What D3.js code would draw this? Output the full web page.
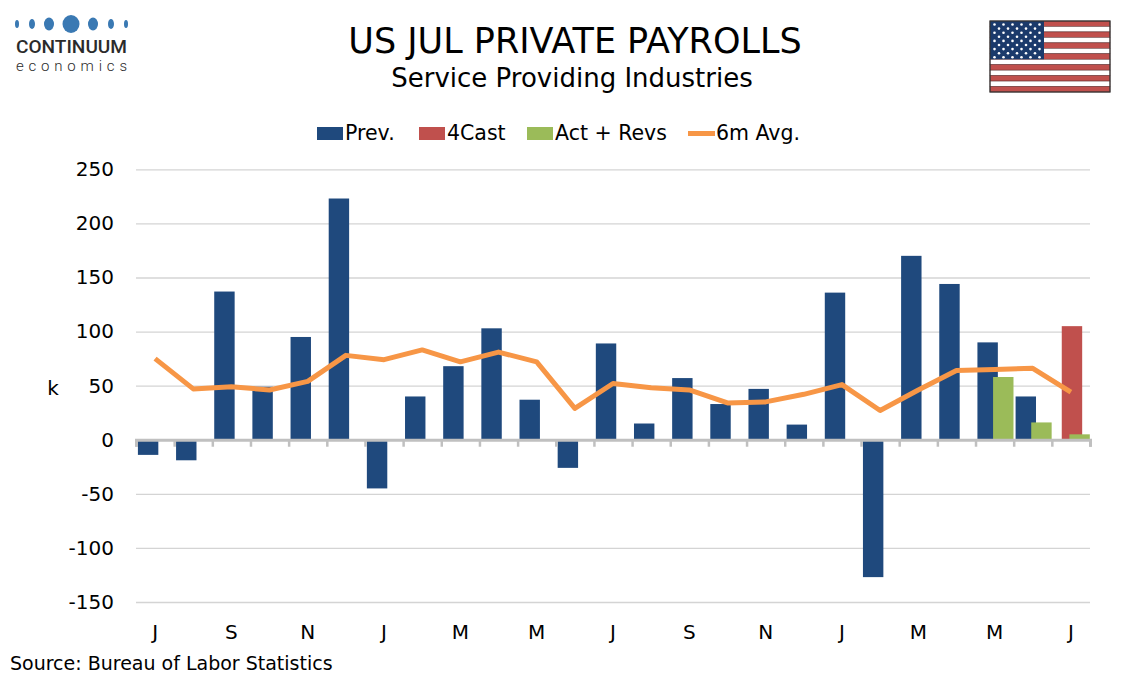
<!DOCTYPE html>
<html>
<head>
<meta charset="utf-8">
<script src="https://cdn.jsdelivr.net/npm/d3@7"></script>
<style>
  body { margin: 0; background: #fff; }
  svg { font-family: "DejaVu Sans", Verdana, sans-serif; }
</style>
</head>
<body>
<div id="chart"></div>
<script>
// months Jul 2023 .. Jul 2025
const months = ["Jul23","Aug23","Sep23","Oct23","Nov23","Dec23","Jan24","Feb24","Mar24","Apr24","May24","Jun24",
                "Jul24","Aug24","Sep24","Oct24","Nov24","Dec24","Jan25","Feb25","Mar25","Apr25","May25","Jun25","Jul25"];
const tickLabels = ["J","","S","","N","","J","","M","","M","","J","","S","","N","","J","","M","","M","","J"];

const prevValues = [-14, -19, 137, 49, 95, 223, -45, 40, 68, 103, 37, -26, 89, 15, 57, 33, 47, 14, 136, -127, 170, 144, 90, 40, null];
const fcastValues = [null, null, null, null, null, null, null, null, null, null, null, null, null, null, null, null, null, null, null, null, null, null, null, null, 105];
const actValues = [null, null, null, null, null, null, null, null, null, null, null, null, null, null, null, null, null, null, null, null, null, null, 58, 16, 5];
const avgValues = [75, 47, 49, 46, 54, 78, 74, 83, 72, 81, 72, 29, 52, 48, 46, 34, 35, 42, 51, 27, 46, 64, 65, 66, 44];

const yTicks = [-150, -100, -50, 0, 50, 100, 150, 200, 250];

const width = 1134, height = 680;
const plotLeft = 136, plotRight = 1090, plotTop = 169.3, plotBottom = 602;

const svg = d3.select("#chart").append("svg")
    .attr("width", width)
    .attr("height", height);

const x = d3.scaleBand().domain(months).range([plotLeft, plotRight]).padding(0);
const xEdge = d3.scaleLinear().domain([0, months.length]).range([plotLeft, plotRight]);
const y = d3.scaleLinear().domain([-150, 250]).range([plotBottom, plotTop]);

// gridlines + y labels (plain hyphen for negatives, like the original)
svg.append("g")
    .attr("transform", `translate(${plotLeft},0)`)
    .call(d3.axisLeft(y).tickValues(yTicks).tickSize(-(plotRight - plotLeft)).tickPadding(22)
        .tickFormat(d => String(d)))
    .call(g => g.select(".domain").remove())
    .call(g => g.selectAll(".tick line").attr("stroke", "#d4d4d4").attr("stroke-width", 1.3))
    .call(g => g.selectAll(".tick text").attr("fill", "#000").style("font-size", "20px")
        .attr("font-family", "DejaVu Sans, Verdana, sans-serif"));

// bars: series slot offsets within a category
const bw = x.bandwidth();
const series = [
    { name: "Prev.", values: prevValues, color: "#1f497d", offset: 0.05 },
    { name: "4Cast", values: fcastValues, color: "#c0504d", offset: 0.26 },
    { name: "Act + Revs", values: actValues, color: "#9bbb59", offset: 0.46 }
];
const barW = bw * 0.535;

series.forEach(s => {
    svg.append("g").selectAll("rect")
        .data(months.map((m, i) => ({ m, v: s.values[i] })).filter(d => d.v !== null))
        .enter()
        .append("rect")
        .attr("x", d => x(d.m) + bw * s.offset)
        .attr("y", d => y(Math.max(0, d.v)))
        .attr("width", barW)
        .attr("height", d => Math.abs(y(d.v) - y(0)))
        .attr("fill", s.color);
});

// x axis at zero with ticks at category edges
svg.append("g")
    .attr("transform", `translate(0,${y(0)})`)
    .call(d3.axisBottom(xEdge).tickValues(d3.range(0, months.length + 1)).tickSize(7).tickFormat(""))
    .call(g => g.select(".domain").attr("stroke", "#c0c0c0").attr("stroke-width", 3))
    .call(g => g.selectAll(".tick line").attr("stroke", "#c0c0c0").attr("stroke-width", 2.5));

// 6m average line
const line = d3.line()
    .x((d, i) => x(months[i]) + bw / 2)
    .y(d => y(d));
svg.append("path")
    .datum(avgValues)
    .attr("d", line)
    .attr("fill", "none")
    .attr("stroke", "#f79646")
    .attr("stroke-width", 5)
    .attr("stroke-linejoin", "round");

// category labels
svg.append("g").selectAll("text")
    .data(months)
    .enter()
    .append("text")
    .attr("x", d => x(d) + bw / 2)
    .attr("y", 639)
    .attr("text-anchor", "middle")
    .style("font-size", "20px")
    .text((d, i) => tickLabels[i]);

// y axis label
svg.append("text")
    .attr("x", 53)
    .attr("y", 395)
    .attr("text-anchor", "middle")
    .style("font-size", "20px")
    .text("k");

// titles
svg.append("text")
    .attr("x", 575).attr("y", 53)
    .attr("text-anchor", "middle")
    .style("font-size", "35px")
    .text("US JUL PRIVATE PAYROLLS");
svg.append("text")
    .attr("x", 572).attr("y", 87)
    .attr("text-anchor", "middle")
    .style("font-size", "26px")
    .text("Service Providing Industries");

// legend
const legendItems = [
    { name: "Prev.", color: "#1f497d", type: "rect", x: 317 },
    { name: "4Cast", color: "#c0504d", type: "rect", x: 419 },
    { name: "Act + Revs", color: "#9bbb59", type: "rect", x: 527 },
    { name: "6m Avg.", color: "#f79646", type: "line", x: 688 }
];
const legend = svg.append("g");
legendItems.forEach(d => {
    if (d.type === "rect") {
        legend.append("rect").attr("x", d.x).attr("y", 127).attr("width", 26).attr("height", 13).attr("fill", d.color);
    } else {
        legend.append("line").attr("x1", d.x).attr("x2", d.x + 27).attr("y1", 133.5).attr("y2", 133.5)
            .attr("stroke", d.color).attr("stroke-width", 5);
    }
    legend.append("text")
        .attr("x", d.x + 28).attr("y", 140)
        .style("font-size", "20.5px")
        .text(d.name);
});

// source
svg.append("text")
    .attr("x", 10).attr("y", 670)
    .style("font-size", "19px")
    .text("Source: Bureau of Labor Statistics");

// logo
const logo = svg.append("g");
const dots = [[17, 2, 4], [32, 3, 5], [49, 5, 6.5], [71, 8.5, 9], [93, 5, 6.5], [111, 3, 5], [126, 2, 4]];
logo.selectAll("ellipse").data(dots).enter().append("ellipse")
    .attr("cx", d => d[0]).attr("cy", 24)
    .attr("rx", d => d[1]).attr("ry", d => d[2])
    .attr("fill", "#3a79b3");
logo.append("text")
    .attr("x", 16).attr("y", 52.5)
    .attr("textLength", 111).attr("lengthAdjust", "spacingAndGlyphs")
    .style("font-family", "Roboto, 'Noto Sans', sans-serif")
    .style("font-weight", "500")
    .style("font-size", "17.5px")
    .attr("fill", "#2b2b2b")
    .text("CONTINUUM");
logo.append("text")
    .attr("x", 16).attr("y", 71)
    .attr("textLength", 111).attr("lengthAdjust", "spacing")
    .style("font-family", "Roboto, 'Noto Sans', sans-serif")
    .style("font-weight", "300")
    .style("font-size", "15px")
    .attr("fill", "#2b2b2b")
    .text("economics");

// flag
const flag = svg.append("g").attr("transform", "translate(990,21)");
const fw = 120, fh = 71, stripeH = fh / 13;
d3.range(13).forEach(i => {
    flag.append("rect")
        .attr("x", 0).attr("y", i * stripeH)
        .attr("width", fw).attr("height", stripeH)
        .attr("fill", i % 2 === 0 ? "#c0504d" : "#ffffff")
        .attr("stroke", "#5a2a2a").attr("stroke-width", 0.5);
});
flag.append("rect").attr("x", 0).attr("y", 0).attr("width", 54).attr("height", stripeH * 7).attr("fill", "#1b3a6b");
for (let r = 0; r < 9; r++) {
    const n = r % 2 === 0 ? 6 : 5;
    for (let c = 0; c < n; c++) {
        flag.append("circle")
            .attr("cx", (r % 2 === 0 ? 4.5 : 9) + c * 9)
            .attr("cy", 3.5 + r * 4.1)
            .attr("r", 1.3)
            .attr("fill", "#fff");
    }
}
flag.append("rect").attr("x", 0).attr("y", 0).attr("width", fw).attr("height", fh)
    .attr("fill", "none").attr("stroke", "#333").attr("stroke-width", 1.2);
</script>
</body>
</html>
